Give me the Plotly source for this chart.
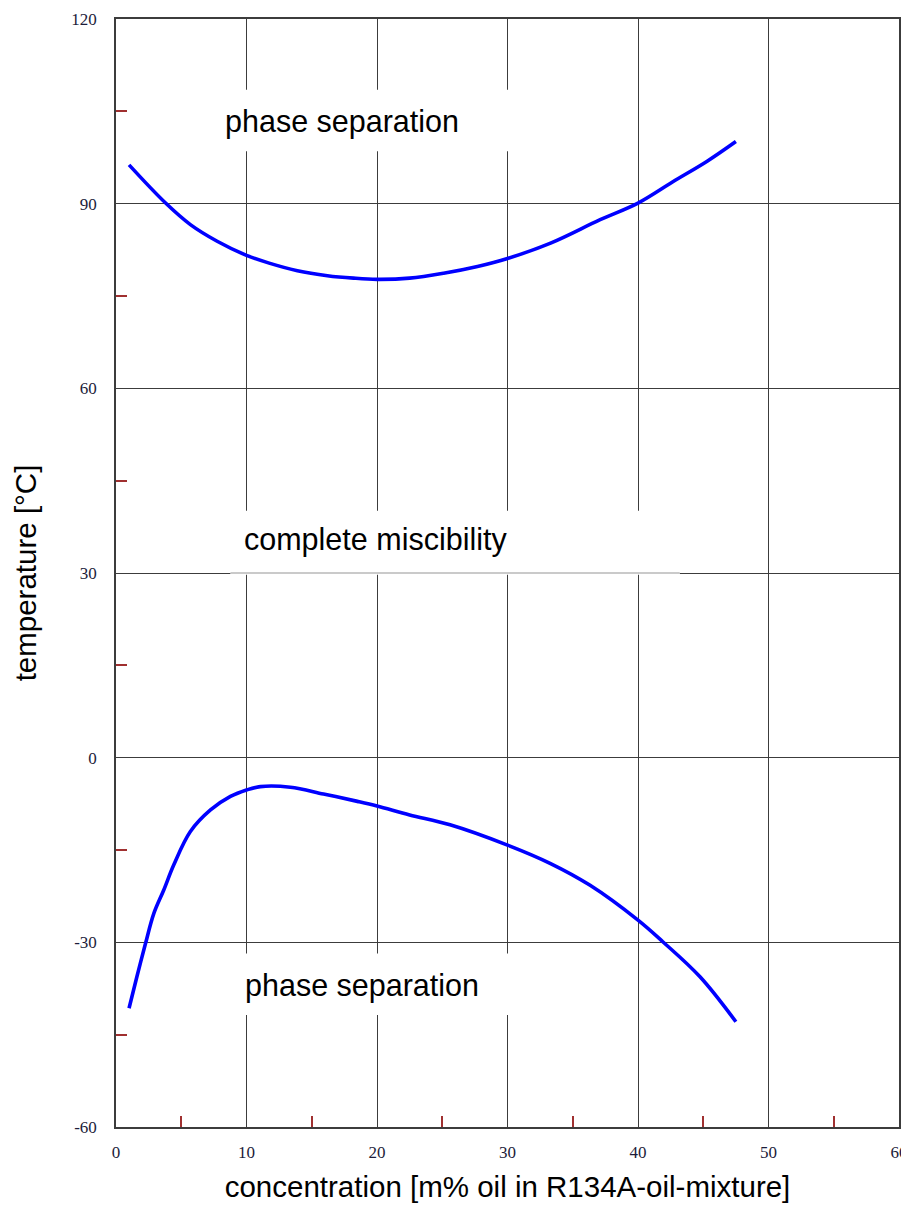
import plotly.graph_objects as go

# Upper miscibility limit (phase separation above)
upper_x = [1.0, 3.8, 5.7, 7.75, 10.0, 11.8, 13.9, 16.2, 18.2, 20.0, 22.5, 25.1, 27.7, 30.0,
           33.3, 37.1, 40.0, 42.7, 45.3, 47.5]
upper_y = [96.3, 90.1, 86.6, 83.9, 81.6, 80.3, 79.1, 78.3, 77.9, 77.7, 77.9, 78.7, 79.8, 81.1,
           83.6, 87.4, 90.1, 93.6, 96.9, 100.1]

# Lower miscibility limit (phase separation below)
lower_x = [1.0, 1.6, 2.26, 2.9, 3.66, 4.43, 5.7, 7.24, 8.77, 10.0, 11.06, 13.36, 15.9, 18.5,
           20.0, 22.5, 25.6, 30.0, 33.3, 36.3, 40.0, 41.9, 44.75, 47.5]
lower_y = [-40.7, -35.6, -30.2, -25.3, -21.5, -17.4, -12.0, -8.5, -6.3, -5.25, -4.7, -4.8, -5.9, -7.1,
           -7.85, -9.3, -10.9, -14.2, -17.2, -20.7, -26.4, -29.9, -35.6, -42.9]

x_ticks = [0, 10, 20, 30, 40, 50, 60]
y_ticks = [-60, -30, 0, 30, 60, 90, 120]
x_minor = [5, 15, 25, 35, 45, 55]
y_minor = [-45, -15, 15, 45, 75, 105]

labels = ["phase separation", "complete miscibility", "phase separation"]
label_x = [17.3, 19.9, 18.85]
label_y = [103.4, 35.5, -37.0]

GRID = "#3c3c3c"
TICKRED = "#a03030"
TICKFONT = dict(family="Liberation Serif, Times New Roman, serif", size=17, color="#1c1c3a")
LABELFONT = dict(family="Liberation Sans, Arial, sans-serif", size=30.5, color="black")
TITLEFONT = dict(family="Liberation Sans, Arial, sans-serif", size=29.5, color="black")

fig = go.Figure()
fig.add_trace(go.Scatter(x=upper_x, y=upper_y, mode="lines", line=dict(color="#0000ff", width=3.6, shape="spline"),
                         showlegend=False, hoverinfo="skip"))
fig.add_trace(go.Scatter(x=lower_x, y=lower_y, mode="lines", line=dict(color="#0000ff", width=3.6, shape="spline"),
                         showlegend=False, hoverinfo="skip"))

# white label boxes masking the grid
boxes = [(5.7, 98.5, 31.0, 108.5), (8.77, 29.7, 43.2, 40.1), (5.7, -41.8, 31.0, -31.8)]
for x0, y0, x1, y1 in boxes:
    fig.add_shape(type="rect", x0=x0, x1=x1, y0=y0, y1=y1, fillcolor="white",
                  line=dict(width=0), layer="above")
fig.add_shape(type="line", x0=8.77, x1=43.2, y0=30, y1=30, line=dict(color="#b8b8b8", width=1.3), layer="above")

for t, x, y in zip(labels, label_x, label_y):
    fig.add_annotation(x=x, y=y, text=t, showarrow=False, font=LABELFONT)

fig.update_xaxes(range=[0, 60], tickvals=x_ticks, ticktext=[str(v) for v in x_ticks], automargin=False,
                 showgrid=True, gridcolor=GRID, gridwidth=1.3, zeroline=False,
                 showline=True, linecolor=GRID, linewidth=1.5, mirror=True,
                 ticks="", ticklabelstandoff=9, tickfont=TICKFONT,
                 minor=dict(tickmode="array", tickvals=x_minor, ticks="inside", ticklen=11,
                            tickcolor=TICKRED, tickwidth=1.5, showgrid=False),
                 title=dict(text="concentration [m% oil in R134A-oil-mixture]", standoff=15, font=TITLEFONT))
fig.update_yaxes(range=[-60, 120], tickvals=y_ticks, ticktext=[str(v) for v in y_ticks], automargin=False,
                 showgrid=True, gridcolor=GRID, gridwidth=1.3, zeroline=False,
                 showline=True, linecolor=GRID, linewidth=1.5, mirror=True,
                 ticks="", ticklabelstandoff=14, tickfont=TICKFONT,
                 minor=dict(tickmode="array", tickvals=y_minor, ticks="inside", ticklen=11,
                            tickcolor=TICKRED, tickwidth=1.5, showgrid=False),
                 title=dict(text="temperature [°C]", standoff=26, font=TITLEFONT))

# page body adds an 8px offset; size the figure so the plot lands where the reference has it
fig.update_layout(width=901, height=1201, margin=dict(l=107.5, r=10, t=11.3, b=82.3),
                  plot_bgcolor="white", paper_bgcolor="white")

fig.write_html("out.html")
